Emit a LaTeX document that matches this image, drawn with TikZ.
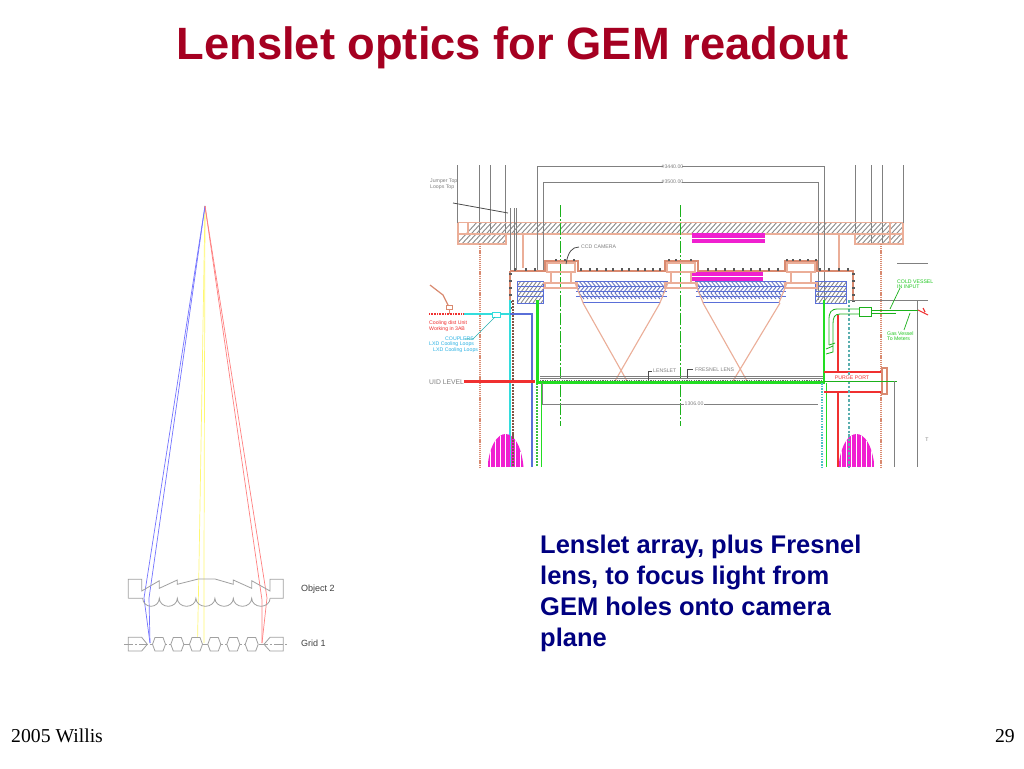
\documentclass[tikz,border=0pt]{standalone}
\usepackage{fontspec}
\setmainfont{Liberation Sans}
\newfontfamily\timesf{Liberation Serif}
\definecolor{titlered}{HTML}{A50021}
\definecolor{bodyblue}{HTML}{000080}
\definecolor{salm}{HTML}{EBAE98}
\definecolor{salmd}{HTML}{D98A70}
\definecolor{hatchg}{HTML}{8A8A8A}
\definecolor{darkg}{HTML}{808080}
\definecolor{cadblue}{HTML}{5A6FD8}
\definecolor{cadred}{HTML}{F03030}
\definecolor{cadgreen}{HTML}{22DD22}
\definecolor{cadcyan}{HTML}{33DDDD}
\definecolor{cadmag}{HTML}{F020D0}
\definecolor{optg}{HTML}{A0A0A0}
\tikzset{
  x=1pt,y=-1pt,
  titlefont/.style={font=\fontsize{45.3}{50}\selectfont\bfseries,text=titlered,inner sep=0,anchor=center},
  bodyfont/.style={font=\fontsize{25.5}{31}\selectfont\bfseries,text=bodyblue,inner sep=0,anchor=north west,align=left},
  footfont/.style={font=\timesf\fontsize{19.7}{22}\selectfont,inner sep=0},
  optlabel/.style={font=\fontsize{9}{10}\selectfont,text=black!75,inner sep=0,anchor=west},
  optline/.style={draw=optg,line width=0.8pt},
  cadtxt/.style={font=\fontsize{5.2}{6}\selectfont,inner sep=0,anchor=west,align=left},
  dim/.style={draw=darkg,line width=1.1pt},
  salmline/.style={draw=salm,line width=1.1pt},
  rope/.style={draw=salmd,line width=2.8pt,dash pattern=on 1.2pt off 0.9pt},
  beadg/.style={draw=cadgreen!70!darkg,line width=2.4pt,dash pattern=on 1.5pt off 1.5pt},
  hatchl/.style={draw=hatchg,line width=0.9pt},
  blueh/.style={draw=cadblue,line width=0.9pt},
}
\begin{document}
\begin{tikzpicture}
\useasboundingbox (0,0) rectangle (1024,768);
\fill[white] (0,0) rectangle (1024,768);

% ---------- texts
\node[titlefont] (title) at (512.5,47.5) {Lenslet optics for GEM readout};
\node[bodyfont] (body) at (540,535) {Lenslet array, plus Fresnel\\lens, to focus light from\\GEM holes onto camera\\plane};
\node[footfont,anchor=west] (foot) at (11,736) {2005 Willis};
\node[footfont,anchor=east] (num) at (1015,736) {29};

% ---------- optics (left)
\coordinate (apex) at (205,206);
\draw[yellow!55!white,line width=0.7pt] (apex) -- (199,565) -- (197.5,643);
\draw[yellow!55!white,line width=0.7pt] (apex) -- (204,565) -- (204,643);
\draw[blue!55!white,line width=0.7pt] (apex) -- (144,598) -- (150,643);
\draw[blue!55!white,line width=0.7pt] (apex) -- (149,598) -- (150,643);
\draw[red!50!white,line width=0.7pt] (apex) -- (267,598) -- (262,643);
\draw[red!50!white,line width=0.7pt] (apex) -- (262,600) -- (262,643);
\draw[optline] (128.3,598.3) -- (128.3,579.3) -- (141.7,579.3) -- (141.7,591) -- (159.3,580.7) -- (159.3,588.3) -- (177.3,580) -- (177.3,584.3) -- (198.3,579) -- (215,579) -- (233.3,584.3) -- (233.3,580) -- (251.7,588.3) -- (251.7,580.7) -- (270,591) -- (270,579.3) -- (283.3,579.3) -- (283.3,598.3) -- (270,598.3);
\draw[optline] (128.3,598.3) -- (142.7,598.3)
  arc[start angle=180,end angle=360,x radius=8.3,y radius=-8]
  arc[start angle=180,end angle=360,x radius=9,y radius=-8]
  arc[start angle=180,end angle=360,x radius=9.3,y radius=-8]
  arc[start angle=180,end angle=360,x radius=9.5,y radius=-8]
  arc[start angle=180,end angle=360,x radius=9.2,y radius=-8]
  arc[start angle=180,end angle=360,x radius=9.2,y radius=-8]
  arc[start angle=180,end angle=360,x radius=9.2,y radius=-8];
\draw[optline,dash pattern=on 9pt off 2pt on 2pt off 2pt] (124,644) -- (288,644);
\draw[optline] (128.3,637.3) -- (141.7,637.3) -- (147.3,644.3) -- (141.7,651) -- (128.3,651) -- cycle;
\draw[optline] (283.3,637.3) -- (270,637.3) -- (264,644.3) -- (270,651) -- (283.3,651) -- cycle;
\foreach \c in {159,177.3,196,214.3,233.3,251.7}{
  \fill[white] (\c-6.5,644.3) -- (\c-4,637.5) -- (\c+4,637.5) -- (\c+6.5,644.3) -- (\c+4,651) -- (\c-4,651) -- cycle;
  \draw[optline] (\c-6.5,644.3) -- (\c-4,637.5) -- (\c+4,637.5) -- (\c+6.5,644.3) -- (\c+4,651) -- (\c-4,651) -- cycle;
}
\node[optlabel] (obj) at (301,589) {Object 2};
\node[optlabel] (grid) at (301,643) {Grid 1};

% ---------- CAD: gray rods top
\foreach \x in {457.5,479.5,490.5,505.5}{\draw[dim] (\x,165) -- (\x,234);}
\foreach \x in {855.5,871.5,882.5,903.5}{\draw[dim] (\x,165) -- (\x,243);}

% ---------- CAD: hatched beam and brackets
\begin{scope}
\clip (458,222.5) rectangle (903,234) (458,234) rectangle (506,244) (855,234) rectangle (903,244);
\foreach \k in {0,5,...,480}{\draw[hatchl] (455+\k,246) -- (455+\k+24,220);}
\end{scope}
\draw[salmline] (458,222.5) -- (903,222.5) (458,234) -- (903,234);
\draw[salmline] (458,222.5) -- (458,244) -- (506,244) -- (506,234);
\draw[salmline] (855,234) -- (855,244) -- (903,244) -- (903,222.5);
\draw[salmline] (468,222.5) -- (468,234) (890,222.5) -- (890,244);
\draw[salmline,line width=1.8pt] (523,234) -- (523,268);
\draw[salmline,line width=1.8pt] (839,234) -- (839,268);

% ropes
\draw[rope] (480,244) -- (480,467);
\draw[rope] (881,244) -- (881,467);

% rods + leader
\draw[darkg,line width=1.1pt] (510.5,208) -- (510.5,270) (514.5,208) -- (514.5,270) (516.5,208) -- (516.5,270);
\draw[black!70,line width=0.8pt] (453,203) -- (508,213);
\node[cadtxt,text=darkg] (jump) at (430,181) {Jumper Top};
\node[cadtxt,text=darkg] (loop) at (430,187) {Loops Top};

% dimension lines
\draw[dim] (537.5,270) -- (537.5,166.5) -- (663,166.5);
\draw[dim] (682,166.5) -- (824.5,166.5) -- (824.5,300);
\draw[dim] (543.5,270) -- (543.5,182.5) -- (663,182.5);
\draw[dim] (682,182.5) -- (818.5,182.5) -- (818.5,300);
\node[cadtxt,text=darkg,anchor=center] (d1) at (672.5,166.7) {\#3440.00};
\node[cadtxt,text=darkg,anchor=center] (d2) at (672.5,182) {\#3500.00};

% green axes
\draw[cadgreen!80!black,line width=0.8pt,dash pattern=on 12pt off 2pt on 2pt off 2pt] (560.5,205) -- (560.5,426);
\draw[cadgreen!80!black,line width=0.8pt,dash pattern=on 12pt off 2pt on 2pt off 2pt] (680,205) -- (680,426);

% magenta plates
\fill[cadmag] (692,233) rectangle (765,243);
\draw[white,line width=0.5pt] (692,238) -- (765,238);
\fill[cadmag] (691,272) rectangle (763,281);
\draw[white,line width=0.4pt] (691,276.5) -- (763,276.5);

% lens stacks
\foreach \a/\b in {575/668,695/787}{
 \begin{scope}
 \clip (\a,281) -- (\b,281) -- (\b-6,300) -- (\a+6,300) -- cycle;
 \foreach \k in {0,4,...,100}{\draw[hatchl,draw=cadblue!70!hatchg] (\a+\k,281) -- (\a+\k+5,287) -- (\a+\k,293) -- (\a+\k+5,299);}
 \end{scope}
 \foreach \y in {281,286,291,296}{\draw[blueh] (\a+1,\y) -- (\b-1,\y);}
 \draw[blueh,line width=1.1pt] (\a+8,302.7) -- (\b-8,302.7);
 \draw[salmline] (\a,283) -- (\a+8,302.7) (\b,283) -- (\b-8,302.7);
}
% cones
\draw[salmline] (583,303) -- (627,381) (660,303) -- (615,381);
\draw[salmline] (703,303) -- (747,381) (780,303) -- (733,381);

% side blue blocks
\foreach \a/\b in {517/543,815/846}{
 \begin{scope}
 \clip (\a,281) rectangle (\b,303);
 \foreach \k in {-20,-16,...,30}{\draw[hatchl] (\a+\k,303) -- (\a+\k+16,281);}
 \end{scope}
 \draw[cadblue,line width=0.9pt] (\a,281) rectangle (\b,303);
 \draw[blueh] (\a,286) -- (\b,286) (\a,291) -- (\b,291) (\a,296) -- (\b,296);
}
% camera housing
\draw[salmd,line width=1.5pt] (510,271) -- (545,271) -- (545,261) -- (578,261) -- (578,271) -- (665,271) -- (665,261) -- (698,261) -- (698,271) -- (785,271) -- (785,261) -- (817,261) -- (817,271) -- (853,271) -- (853,300);
\draw[salmd,line width=1.5pt] (510,271) -- (510,300);
\foreach \a in {547,667,787}{
 \draw[salmline] (\a,263) rectangle (\a+28,272);
 \draw[salmline] (\a+4,272) rectangle (\a+24,283);
 \draw[salmline] (\a-2,283) rectangle (\a+30,288);
}
\draw[salmline] (543,283) -- (575,283) (543,288) -- (575,288) (787,283) -- (815,283);
% bolts
\foreach \x in {556,565,574,581,590,597,606,613,622,629,638,645,653,660,669,676,691,708,716,725,734,743,751,760,769,778,787,793,800,808,816,820,829,839,848}{
 \pgfmathsetmacro{\yb}{(\x>544 && \x<579)||(\x>664 && \x<699)||(\x>784 && \x<818)?260:269.5}
 \fill[black!65] (\x-1.2,\yb-1.4) rectangle (\x+1.2,\yb+1);
}
\foreach \x in {515,526,535}{\fill[black!65] (\x-1.2,268.1) rectangle (\x+1.2,270.5);}
\foreach \y in {273,280,287,294,300}{\fill[black!65] (851.5,\y) rectangle (854.5,\y+2);}
\foreach \y in {273,280,287,294,301,307}{\fill[black!65] (508.5,\y) rectangle (511.5,\y+2);}
\draw[black!70,line width=0.8pt] (566,264) .. controls (568,252) and (572,247) .. (579,247);
\node[cadtxt,text=darkg] (ccd) at (581,247) {CCD CAMERA};

% left walls
\draw[cadcyan,line width=1.4pt] (510,300) -- (510,467);
\draw[salmd!60!black,line width=1.3pt,dash pattern=on 2pt off 1pt] (513,300) -- (513,467);
\draw[cadblue,line width=1.2pt] (510,314) -- (532,314) -- (532,467);
\draw[cadgreen,line width=2.8pt] (537.7,300) -- (537.7,382);
\draw[beadg] (537,383) -- (537,467);
\draw[cadgreen,line width=0.9pt] (541.7,383) -- (541.7,467);
% cooling
\draw[cadred,line width=1.8pt,dash pattern=on 1pt off 0.6pt] (429,314) -- (463,314);
\draw[salmd,line width=1.2pt] (430,285) -- (443,295) -- (448,305);
\draw[salmd,line width=0.9pt] (446,305) rectangle (452,309);
\draw[salmd,line width=0.9pt] (449,309) -- (449,314);
\draw[cadcyan,line width=1.4pt] (464,314) -- (510,314);
\draw[cadcyan,fill=white,line width=0.9pt] (492,312) rectangle (500,317);
\node[cadtxt,text=cadred] (cool1) at (429,322.7) {Cooling dist Unit};
\node[cadtxt,text=cadred] (cool2) at (429,329) {Working in 3AB};
\node[cadtxt,text=cadcyan!80!blue] (cpl) at (445,339) {COUPLERS};
\node[cadtxt,text=cadcyan!80!blue] (lxd1) at (429,344.5) {LXD Cooling Loops};
\node[cadtxt,text=cadcyan!80!blue] (lxd2) at (433,350.5) {LXD Cooling Loops};
\draw[cadcyan!80!black,line width=0.6pt] (465,339) -- (473,339) -- (495,317);

% UID level
\node[cadtxt,text=darkg,font=\fontsize{6.8}{8}\selectfont] (uid) at (429,381.7) {UID LEVEL};
\draw[cadred,line width=3pt] (464,381) -- (535,381);
\draw[cadgreen,line width=2.8pt] (536,382.5) -- (825,382.5);
\draw[darkg,line width=0.7pt] (540,376.7) -- (824,376.7) (540,378.6) -- (824,378.6);
\draw[black!60,line width=1.5pt,dash pattern=on 1.2pt off 1.2pt] (540,380.5) -- (824,380.5);
\draw[black!70,line width=0.7pt] (648,380) -- (648,371) -- (652,371);
\node[cadtxt,text=darkg] (lens1) at (653,371) {LENSLET};
\draw[black!70,line width=0.7pt] (687,378) -- (687,369.5) -- (693,369.5);
\node[cadtxt,text=darkg] (lens2) at (695,369.5) {FRESNEL LENS};

% 1306 dimension
\draw[dim,line width=0.7pt] (542.7,383) -- (542.7,404.5);
\draw[dim] (542.7,404.5) -- (684,404.5);
\draw[dim] (704,404.5) -- (818,404.5);
\node[cadtxt,text=darkg,anchor=center] (d3) at (694,404) {1306.00};

% right walls
\draw[cadgreen,line width=2.8pt] (824,300) -- (824,382);
\draw[cadcyan!70!darkg,line width=2.4pt,dash pattern=on 1.5pt off 1.2pt] (822,383) -- (822,467);
\draw[cadgreen,line width=0.8pt] (826,383) -- (826,467);
\draw[cadred,line width=1.1pt] (838,315) -- (838,467);

% purge port
\fill[white] (826.5,372) rectangle (882,392);
\draw[cadred,line width=1.2pt] (824,372) -- (882,372) (824,392) -- (882,392);
\draw[salmd,line width=1.1pt] (882,368) rectangle (887,394);
\draw[cadcyan!50!darkg,line width=1.8pt,dash pattern=on 2.5pt off 2pt] (849,300) -- (849,467);
\node[cadtxt,text=cadred,anchor=center,fill=white,inner sep=0.3pt] (purge) at (852,378) {PURGE PORT};
\draw[cadgreen!80!black,line width=0.7pt] (824,381) -- (897,381);
\draw[dim] (894.5,381) -- (894.5,467);
\draw[dim] (917.5,300) -- (917.5,467);
\draw[dim] (850,300.5) -- (928,300.5);
\draw[dim] (897,263.5) -- (928,263.5);
\node[cadtxt,text=darkg,anchor=center] (tmark) at (927,440) {T};

% green plumbing
\node[cadtxt,text=cadgreen!90!black] (cv1) at (897,281.5) {COLD VESSEL};
\node[cadtxt,text=cadgreen!90!black] (cv2) at (897,286.5) {IN INPUT};
\draw[cadgreen!80!black,line width=0.7pt] (900,288) -- (890,309);
\draw[cadgreen!80!black,line width=0.8pt] (859,309) -- (838,309) .. controls (831,309) and (829,312) .. (829,320) -- (829,345);
\draw[cadgreen!80!black,line width=0.8pt] (859,314) -- (840,314) .. controls (834,314) and (833,318) .. (833,324) -- (833,352) -- (826,354);
\draw[cadgreen!80!black,line width=0.8pt] (829,345) -- (835,343) (826,349) -- (833,346);
\draw[cadgreen!80!black,line width=0.9pt,fill=white] (859,307) rectangle (871,316);
\draw[cadgreen!80!black,line width=0.8pt] (871,310) -- (918,310) (871,313) -- (896,313);
\draw[cadred,line width=1.1pt] (918,310) -- (928,315) (923,308) -- (925,312);
\node[cadtxt,text=cadgreen!90!black] (gv1) at (887,333.5) {Gas Vessel};
\node[cadtxt,text=cadgreen!90!black] (gv2) at (887,339) {To Meters};
\draw[cadgreen!80!black,line width=0.7pt] (904,330) -- (910,313);

% magenta humps
\foreach \c in {505.5,856.5}{
 \begin{scope}
 \clip (\c-18,467) .. controls (\c-16,445) and (\c-8,434) .. (\c,434) .. controls (\c+8,434) and (\c+16,445) .. (\c+18,467) -- cycle;
 \fill[cadmag] (\c-18,434) rectangle (\c+18,467);
 \foreach \k in {-15,-10,...,15}{\draw[white,line width=0.25pt] (\c+\k,434) -- (\c+\k,467);}
 \end{scope}
}
\draw[salmd!60!black,line width=1.3pt,dash pattern=on 2pt off 1pt] (513,434) -- (513,467);
\draw[cadcyan,line width=1pt] (510,434) -- (510,467);
\draw[cadcyan!50!darkg,line width=1.8pt,dash pattern=on 2.5pt off 2pt] (849,434) -- (849,467);
\end{tikzpicture}
\end{document}
